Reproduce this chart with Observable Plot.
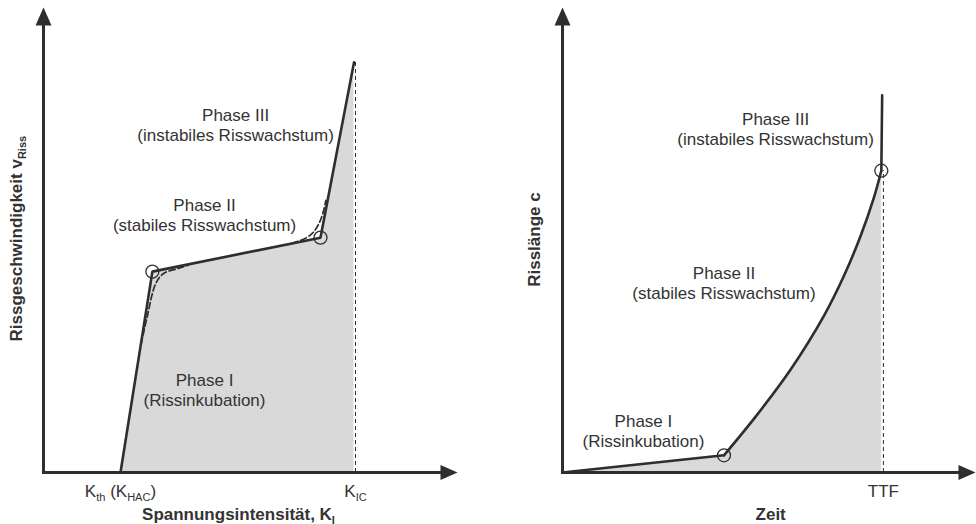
<!DOCTYPE html>
<html><head><meta charset="utf-8">
<script src="https://cdn.jsdelivr.net/npm/d3@7"></script>
<script src="https://cdn.jsdelivr.net/npm/@observablehq/plot@0.6"></script>
<style>
html,body{margin:0;padding:0;background:#fff;}
#wrap{display:flex;width:976px;height:524px;}
#wrap svg{display:block;flex:none;}
</style></head><body><div id="wrap"></div>
<script>
// ---------- Left panel: crack velocity vs. stress intensity ----------
const kPoints = [18.6, 26.3, 66.9, 75.0];
const vPoints = [0, 43.2, 50.5, 88.2];
const kneeLowK = [23.6, 25.0, 27.1, 29.0, 32.6, 35.0];
const kneeLowV = [27.7, 33.3, 40.6, 42.8, 43.9, 44.6];
const kneeHighK = [60.1, 63.3, 65.0, 66.4, 67.4, 68.2];
const kneeHighV = [49.3, 50.4, 51.5, 53.3, 55.5, 58.5];
const kCircleK = [26.3, 66.9];
const kCircleV = [43.2, 50.5];
const kTicks = [18.6, 75.36];
const kTickLabels = ["K_{th} (K_{HAC})", "K_{IC}"];
const phaseLabels = ["Phase III\n(instabiles Risswachstum)", "Phase II\n(stabiles Risswachstum)", "Phase I\n(Rissinkubation)"];
const leftPhaseX = [46.4, 38.9, 38.9];
const leftPhaseY = [74.8, 55.5, 17.8];
const leftXTitle = "Spannungsintensität, K_{I}";
const leftYTitle = "Rissgeschwindigkeit v_{Riss}";

// ---------- Right panel: crack length vs. time ----------
const t1 = [0, 39.1];
const c1 = [0, 3.7];
const t2 = [39.1, 47.1, 55.2, 63.3, 68.1, 72.2, 75.4, 77.2];
const c2 = [3.7, 12.4, 22.1, 33.7, 42.2, 50.9, 59.1, 64.9];
const t3 = [77.2, 77.4];
const c3 = [64.9, 81.1];
const tCircleT = [39.1, 77.2];
const tCircleC = [3.7, 64.9];
const tTicks = [77.7];
const tTickLabels = ["TTF"];
const rightPhaseX = [51.6, 39.1, 19.6];
const rightPhaseY = [74.0, 40.9, 9.1];
const rightXTitle = "Zeit";
const rightYTitle = "Risslänge c";

// axis extents (domain units)
const axisMax = 100;

const INK = "#2e2e2e";
const TXT = "#333333";
const FILL = "#d9d9d9";
const FONT = "'Liberation Sans', Arial, sans-serif";

const pts = (xs, ys) => xs.map((x, i) => ({x, y: ys[i]}));

const arrowUp = {draw(ctx) { ctx.moveTo(0, 0); ctx.lineTo(8, 18); ctx.lineTo(-8, 18); ctx.closePath(); }};
const arrowRight = {draw(ctx) { ctx.moveTo(0, 0); ctx.lineTo(-17, 7.5); ctx.lineTo(-17, -7.5); ctx.closePath(); }};

function axesMarks() {
  return [
    Plot.line(pts([0, axisMax - 3], [0, 0]), {x: "x", y: "y", stroke: INK, strokeWidth: 3, strokeLinecap: "butt"}),
    Plot.line(pts([0, 0], [0, axisMax - 3]), {x: "x", y: "y", stroke: INK, strokeWidth: 3, strokeLinecap: "square"}),
    Plot.dot(pts([0], [axisMax]), {x: "x", y: "y", symbol: arrowUp, fill: INK, stroke: "none", r: 5}),
    Plot.dot(pts([axisMax], [0]), {x: "x", y: "y", symbol: arrowRight, fill: INK, stroke: "none", r: 5})
  ];
}

function textMarks(phX, phY, ticks, tickLabels, xTitle, xTitleX, yTitle, yTitleY, yTitleDx) {
  const common = {fill: TXT, fontSize: 17, fontFamily: FONT, stroke: "none"};
  return [
    Plot.text(phaseLabels.map((t, i) => ({x: phX[i], y: phY[i], text: t})),
      {x: "x", y: "y", text: "text", lineHeight: 1.18, textAnchor: "middle", lineAnchor: "middle", ...common}),
    Plot.text(ticks.map((x, i) => ({x, text: tickLabels[i]})),
      {x: "x", text: "text", frameAnchor: "bottom", dy: 19, textAnchor: "middle", lineAnchor: "middle", ...common}),
    Plot.text([{x: xTitleX, text: xTitle}],
      {x: "x", text: "text", frameAnchor: "bottom", dy: 42, textAnchor: "middle", lineAnchor: "middle", fontWeight: "bold", ...common}),
    Plot.text([{y: yTitleY, text: yTitle}],
      {y: "y", text: "text", frameAnchor: "left", dx: yTitleDx, rotate: -90, textAnchor: "middle", lineAnchor: "middle", fontWeight: "bold", ...common})
  ];
}

function subify(svg) {
  svg.querySelectorAll("text").forEach(t => {
    if (t.querySelector("tspan")) return;
    const s = t.textContent;
    if (!s.includes("_{")) return;
    t.textContent = "";
    const ns = "http://www.w3.org/2000/svg";
    const re = /_\{([^}]*)\}/g;
    let last = 0, m, shifted = false;
    const add = (str, sub) => {
      const ts = document.createElementNS(ns, "tspan");
      ts.textContent = str;
      if (sub) { ts.setAttribute("font-size", "65%"); ts.setAttribute("dy", "4"); shifted = true; }
      else if (shifted) { ts.setAttribute("dy", "-4"); shifted = false; }
      t.appendChild(ts);
    };
    while ((m = re.exec(s))) {
      if (m.index > last) add(s.slice(last, m.index), false);
      add(m[1], true);
      last = re.lastIndex;
    }
    if (last < s.length) add(s.slice(last), false);
  });
  return svg;
}

const left = Plot.plot({
  width: 488, height: 524,
  marginLeft: 43, marginRight: 31, marginTop: 7, marginBottom: 52,
  x: {domain: [0, axisMax], axis: null},
  y: {domain: [0, axisMax], axis: null},
  style: {background: "white", fontFamily: FONT, color: TXT, overflow: "visible"},
  marks: [
    Plot.areaY(pts(kPoints, vPoints), {x: "x", y: "y", fill: FILL}),
    Plot.ruleX([{x: kTicks[1], y1: 0, y2: vPoints[3]}], {x: "x", y1: "y1", y2: "y2", stroke: INK, strokeWidth: 1, strokeDasharray: "4,3"}),
    Plot.line(pts(kneeLowK, kneeLowV), {x: "x", y: "y", curve: "catmull-rom", stroke: INK, strokeWidth: 1.7, strokeDasharray: "6,3"}),
    Plot.line(pts(kneeHighK, kneeHighV), {x: "x", y: "y", curve: "catmull-rom", stroke: INK, strokeWidth: 1.7, strokeDasharray: "6,3"}),
    Plot.line(pts(kPoints, vPoints), {x: "x", y: "y", stroke: INK, strokeWidth: 2.6, strokeLinejoin: "miter"}),
    Plot.dot(pts(kCircleK, kCircleV), {x: "x", y: "y", r: 6.5, stroke: INK, strokeWidth: 1.3, fill: "none"}),
    ...axesMarks(),
    ...textMarks(leftPhaseX, leftPhaseY, kTicks, kTickLabels, leftXTitle, 47.1, leftYTitle, 50.3, -26.5)
  ]
});

const right = Plot.plot({
  width: 488, height: 524,
  marginLeft: 74, marginRight: 1, marginTop: 7, marginBottom: 52,
  x: {domain: [0, axisMax], axis: null},
  y: {domain: [0, axisMax], axis: null},
  style: {background: "white", fontFamily: FONT, color: TXT, overflow: "visible"},
  marks: [
    Plot.areaY(pts(t1, c1), {x: "x", y: "y", fill: FILL, stroke: FILL, strokeWidth: 0.6}),
    Plot.areaY(pts(t2, c2), {x: "x", y: "y", curve: "catmull-rom", fill: FILL, stroke: FILL, strokeWidth: 0.6}),
    Plot.ruleX([{x: tTicks[0], y1: 0, y2: c3[0]}], {x: "x", y1: "y1", y2: "y2", stroke: INK, strokeWidth: 1, strokeDasharray: "4,3"}),
    Plot.line(pts(t1, c1), {x: "x", y: "y", stroke: INK, strokeWidth: 2.6}),
    Plot.line(pts(t2, c2), {x: "x", y: "y", curve: "catmull-rom", stroke: INK, strokeWidth: 2.6}),
    Plot.line(pts(t3, c3), {x: "x", y: "y", stroke: INK, strokeWidth: 2.6}),
    Plot.dot(pts(tCircleT, tCircleC), {x: "x", y: "y", r: 6.5, stroke: INK, strokeWidth: 1.3, fill: "none"}),
    ...axesMarks(),
    ...textMarks(rightPhaseX, rightPhaseY, tTicks, tTickLabels, rightXTitle, 50.4, rightYTitle, 50.1, -27.5)
  ]
});

const wrap = document.getElementById("wrap");
wrap.appendChild(subify(left));
wrap.appendChild(subify(right));
</script>
</body></html>
